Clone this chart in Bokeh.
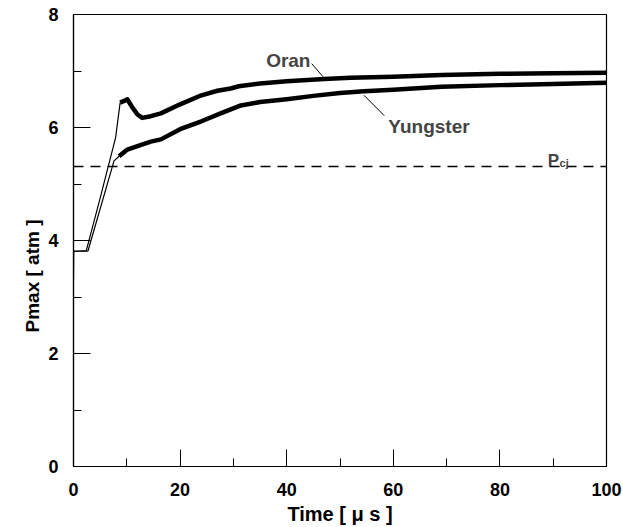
from bokeh.plotting import figure
from bokeh.models import FixedTicker, Label, Range1d, Title
from bokeh.embed import file_html
from bokeh.resources import INLINE

# ---- data ----
oran_t_early = [0.0, 0.05, 0.3, 2.4, 5.0, 7.9, 8.75]
oran_p_early = [3.30, 3.82, 3.81, 3.82, 4.75, 5.82, 6.44]
oran_t = [8.75, 9.5, 10.1, 11.0, 12.0, 12.9, 14.5, 16.4, 20.0, 24.0, 27.0, 29.5,
          31.0, 35.0, 40.0, 47.0, 52.0, 60.0, 69.0, 80.0, 90.0, 100.0]
oran_p = [6.44, 6.47, 6.50, 6.36, 6.23, 6.17, 6.20, 6.25, 6.41, 6.57, 6.65, 6.69,
          6.73, 6.78, 6.82, 6.86, 6.88, 6.90, 6.93, 6.95, 6.96, 6.97]

yung_t_early = [0.0, 2.7, 7.6, 8.55]
yung_p_early = [3.81, 3.81, 5.41, 5.49]
yung_t = [8.55, 10.1, 12.0, 14.5, 16.4, 20.0, 24.0, 27.6, 31.4, 35.0, 40.0, 45.0,
          50.0, 54.5, 60.0, 69.0, 80.0, 90.0, 100.0]
yung_p = [5.49, 5.61, 5.67, 5.75, 5.79, 5.97, 6.11, 6.25, 6.39, 6.45, 6.50, 6.56,
          6.61, 6.64, 6.67, 6.72, 6.75, 6.77, 6.79]

pcj_t = [0.0, 100.0]
pcj_p = [5.31, 5.31]

x_major = [0, 20, 40, 60, 80, 100]
x_minor = [10, 30, 50, 70, 90]
y_major = [0, 2, 4, 6, 8]
y_minor = [1, 3, 5, 7]

FONT = "Liberation Sans"

p = figure(width=623, height=527, output_backend="svg", toolbar_location=None,
           x_range=Range1d(0, 100), y_range=Range1d(0, 8),
           min_border_left=73, min_border_right=17, min_border_top=14,
           min_border_bottom=61)
p.xgrid.visible = False
p.ygrid.visible = False
p.outline_line_color = "black"
p.outline_line_width = 1.2
p.background_fill_color = "white"
p.border_fill_color = "white"

for ax in (p.xaxis[0], p.yaxis[0]):
    ax.axis_line_color = "black"
    ax.axis_line_width = 1.2
    ax.major_tick_in = 17
    ax.major_tick_out = 0
    ax.minor_tick_in = 8
    ax.minor_tick_out = 0
    ax.major_tick_line_color = "black"
    ax.minor_tick_line_color = "black"
    ax.major_label_text_font = FONT
    ax.major_label_text_font_style = "bold"
    ax.major_label_text_font_size = "18px"
    ax.major_label_text_color = "black"

p.xaxis[0].ticker = FixedTicker(ticks=x_major, minor_ticks=x_minor)
p.yaxis[0].ticker = FixedTicker(ticks=y_major, minor_ticks=y_minor)
p.xaxis[0].major_label_standoff = 16
p.yaxis[0].major_label_standoff = 15

p.xaxis[0].axis_label = "Time [ μ s ]"
p.xaxis[0].axis_label_text_font = FONT
p.xaxis[0].axis_label_text_font_style = "bold"
p.xaxis[0].axis_label_text_font_size = "20px"
p.xaxis[0].axis_label_standoff = 4
p.xaxis[0].axis_label_text_color = "black"

# y axis title, placed in the left panel like the reference
p.add_layout(Title(text="Pmax [ atm ]", align="left", offset=134, standoff=6,
                   text_font=FONT, text_font_style="bold", text_font_size="19px",
                   text_color="black"), "left")

# Pcj line
p.line(pcj_t, pcj_p, line_color="black", line_width=1.6, line_dash="10 7")

# curves
p.line(oran_t_early, oran_p_early, line_color="black", line_width=1.2)
p.line(yung_t_early, yung_p_early, line_color="black", line_width=1.2)
p.line(oran_t, oran_p, line_color="black", line_width=4.5, line_join="round")
p.line(yung_t, yung_p, line_color="black", line_width=4.5, line_join="round")

# annotations
p.line([44.7, 46.8], [7.13, 6.90], line_color="black", line_width=1)
p.line([54.5, 58.3], [6.57, 6.21], line_color="black", line_width=1)
p.add_layout(Label(x=40.3, y=7.19, text="Oran", text_align="center",
                   text_baseline="alphabetic", text_font=FONT,
                   text_font_style="bold", text_font_size="19px"))
p.add_layout(Label(x=66.7, y=6.02, text="Yungster", text_align="center",
                   text_baseline="alphabetic", text_font=FONT,
                   text_font_style="bold", text_font_size="19px"))
p.add_layout(Label(x=89.0, y=5.42, text="P", text_align="left",
                   text_baseline="alphabetic", text_font=FONT,
                   text_font_style="bold", text_font_size="17px"))
p.add_layout(Label(x=91.2, y=5.38, text="cj", text_align="left",
                   text_baseline="alphabetic", text_font=FONT,
                   text_font_style="bold", text_font_size="11px"))

open("out.html", "w").write(file_html(p, INLINE))
